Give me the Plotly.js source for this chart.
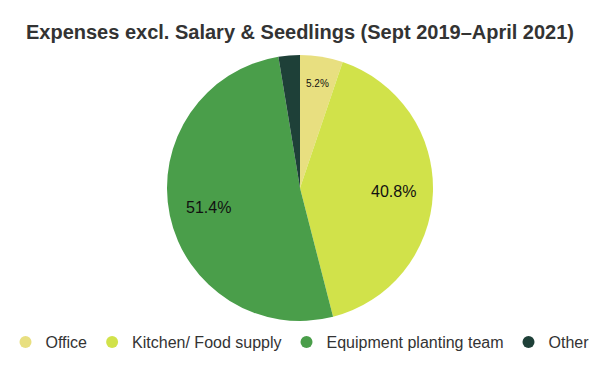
<!DOCTYPE html>
<html>
<head>
<meta charset="utf-8">
<script src="https://cdn.plot.ly/plotly-3.0.1.min.js"></script>
<style>html,body{margin:0;padding:0;background:#fff;}#chart{width:600px;height:371px;}</style>
</head>
<body>
<div id="chart"></div>
<script>
const labels = ['Office', 'Kitchen/ Food supply', 'Equipment planting team', 'Other'];
const values = [5.2, 40.8, 51.4, 2.6];
const colors = ['#E8DF80', '#D1E24A', '#4A9E4A', '#1E4038'];
const showLabel = [true, true, true, false];
const textSizes = [10, 16, 16, 16];

const W = 600, H = 371;
const cx = 300, cy = 188, R = 133;
const traces = [{
  type: 'pie',
  labels: labels,
  values: values,
  marker: {colors: colors, line: {width: 0}},
  sort: false,
  direction: 'clockwise',
  rotation: 0,
  textinfo: 'none',
  showlegend: false,
  hoverinfo: 'label+percent',
  domain: {x: [0, 1], y: [1 - (cy + R)/H, 1 - (cy - R)/H]}
}];
labels.forEach((l, i) => {
  traces.push({
    type: 'scatter', mode: 'markers', x: [null], y: [null], name: l,
    marker: {symbol: 'circle', size: 12, color: colors[i]},
    showlegend: true, hoverinfo: 'skip'
  });
});

// percentage labels placed along each slice's mid-angle
const total = values.reduce((a, b) => a + b, 0);
const annotations = [];
let cum = 0;
values.forEach((v, i) => {
  const frac = v / total;
  const mid = (cum + frac / 2) * 2 * Math.PI;
  cum += frac;
  if (!showLabel[i]) return;
  const rr = R * (frac < 0.1 ? 0.8 : 0.7);
  const px = cx + rr * Math.sin(mid), py = cy - rr * Math.cos(mid);
  annotations.push({
    xref: 'paper', yref: 'paper', x: px / W, y: 1 - py / H,
    xanchor: 'center', yanchor: 'middle', showarrow: false,
    text: (frac * 100).toFixed(1) + '%',
    font: {size: textSizes[i], color: '#111'}
  });
});

const layout = {
  width: W, height: H,
  margin: {l: 0, r: 0, t: 0, b: 0},
  paper_bgcolor: '#fff', plot_bgcolor: '#fff',
  font: {family: 'Liberation Sans, Arial, sans-serif', color: '#333'},
  title: {text: '<b>Expenses excl. Salary &amp; Seedlings (Sept 2019–April 2021)</b>',
          font: {size: 20, color: '#333'}, x: 0.5, xanchor: 'center', y: 1 - 32/H, yanchor: 'middle'},
  xaxis: {visible: false}, yaxis: {visible: false},
  annotations: annotations,
  showlegend: true,
  legend: {orientation: 'h', x: 0.5, xanchor: 'center', y: 1 - 342/H, yanchor: 'middle',
           font: {size: 16, color: '#333'}, itemwidth: 30, traceorder: 'normal'}
};
Plotly.newPlot('chart', traces, layout, {displayModeBar: false, staticPlot: true});
</script>
</body>
</html>
